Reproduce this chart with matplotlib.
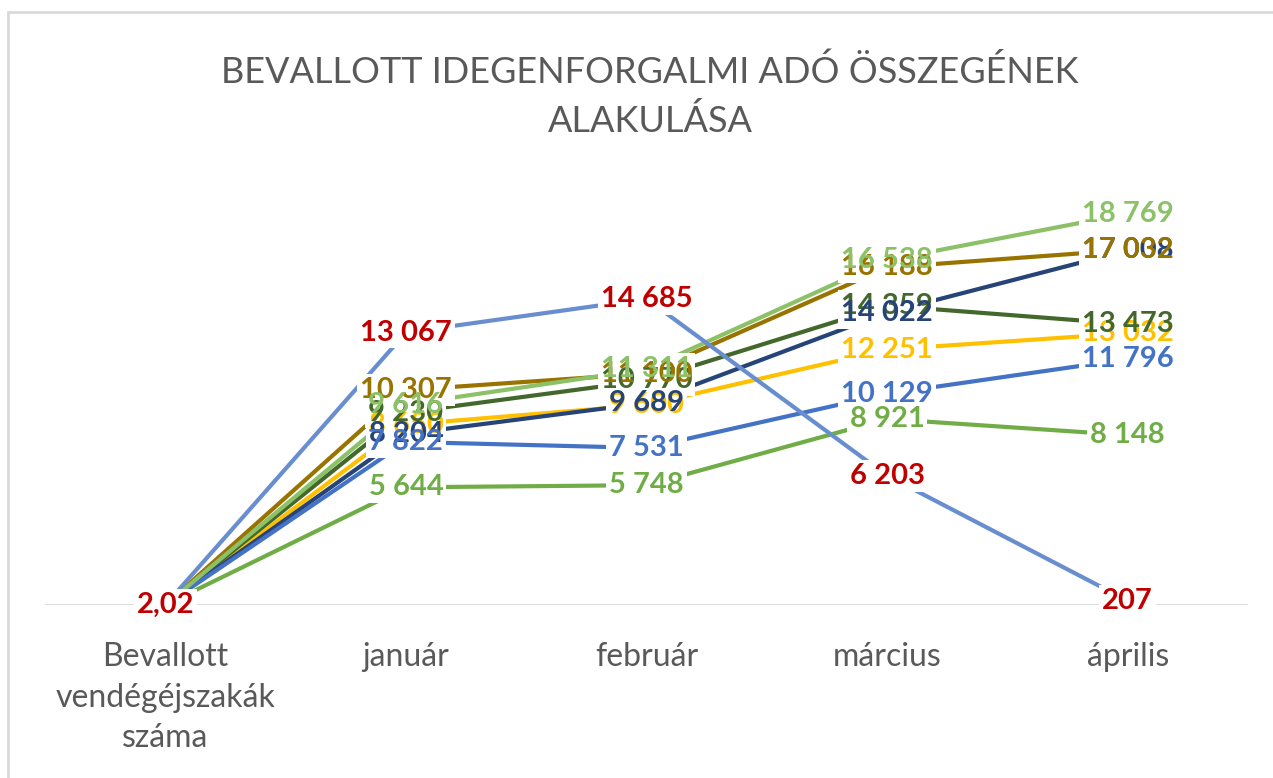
import matplotlib
matplotlib.use("Agg")
import matplotlib.pyplot as plt
from matplotlib.patches import Rectangle

categories = ["Bevallott\nvendégéjszakák\nszáma", "január", "február", "március", "április"]

# series values
light_blue = [2.02, 13067, 14685, 6203, 207]
gold = [2.05, 10307, 11100, 16188, 17032]
light_green = [2.01, 9616, 11311, 16538, 18769]
dark_green = [1.99, 9230, 10770, 14359, 13473]
yellow = [2.03, 8650, 9600, 12251, 13032]
navy = [2.00, 8204, 9689, 14022, 17008]
blue = [1.98, 7822, 7531, 10129, 11796]
green = [1.97, 5644, 5748, 8921, 8148]

title = "BEVALLOTT IDEGENFORGALMI ADÓ ÖSSZEGÉNEK\nALAKULÁSA"

# drawing order of labels (later = on top)
series = [
    (yellow, "#FFC000", "#FFC000"),
    (dark_green, "#43682B", "#43682B"),
    (navy, "#264478", "#264478"),
    (blue, "#4472C4", "#4472C4"),
    (gold, "#997300", "#997300"),
    (light_green, "#8CC168", "#8CC168"),
    (green, "#70AD47", "#70AD47"),
    (light_blue, "#698ED0", "#C00000"),
]

FONT = ["Lato", "DejaVu Sans"]

fig = plt.figure(figsize=(12.73, 7.78), dpi=100)
fig.patches.append(Rectangle((8 / 1273, -0.1), 1.2, 1 - 12 / 778 + 0.1,
                             transform=fig.transFigure, fill=False,
                             edgecolor="#D9D9D9", linewidth=2))
ax = fig.add_axes([45 / 1273, 1 - 605 / 778, (1248 - 45) / 1273, (605 - 188) / 778])
x = list(range(len(categories)))
ax.set_xlim(-0.5, len(categories) - 0.5)
ax.set_ylim(0, 20000)

for vals, lc, tc in series:
    ax.plot(x, vals, color=lc, linewidth=3, solid_capstyle="butt", zorder=2)


def fmt(v):
    if v < 100:
        return f"{v:.2f}".replace(".", ",")
    return f"{v:,.0f}".replace(",", " ")


# white label boxes first (they cut the lines), then label texts on top
for vals, lc, tc in series:
    for xi, v in zip(x, vals):
        ax.text(xi, v, fmt(v), ha="center", va="center", fontsize=21, fontweight="bold",
                color="none", family=FONT, zorder=3,
                bbox=dict(boxstyle="square,pad=0.1", facecolor="white", edgecolor="none"))
z = 4
for vals, lc, tc in series:
    for xi, v in zip(x, vals):
        ax.text(xi, v, fmt(v), ha="center", va="center", fontsize=21, fontweight="bold",
                color=tc, family=FONT, zorder=z)
        z += 0.01

# the last series' label at the first category sits on top of the others
top_vals, _, top_col = series[-1]
ax.text(x[0], top_vals[0], fmt(top_vals[0]), ha="center", va="center", fontsize=21,
        fontweight="bold", color=top_col, family=FONT, zorder=10,
        bbox=dict(boxstyle="square,pad=0.1", facecolor="white", edgecolor="none"))

ax.axhline(0, color="#D9D9D9", linewidth=2, zorder=1)
for s in ax.spines.values():
    s.set_visible(False)
ax.set_yticks([])
ax.set_xticks(x)
ax.set_xticklabels(categories, fontsize=23, color="#595959", family=FONT, linespacing=1.42)
ax.tick_params(axis="x", length=0, pad=27)

fig.text(650 / 1273, 1 - 96 / 778, title, ha="center", va="center", fontsize=26,
         color="#595959", family=FONT, linespacing=1.55)

fig.savefig("out.png", dpi=100, facecolor="white")
